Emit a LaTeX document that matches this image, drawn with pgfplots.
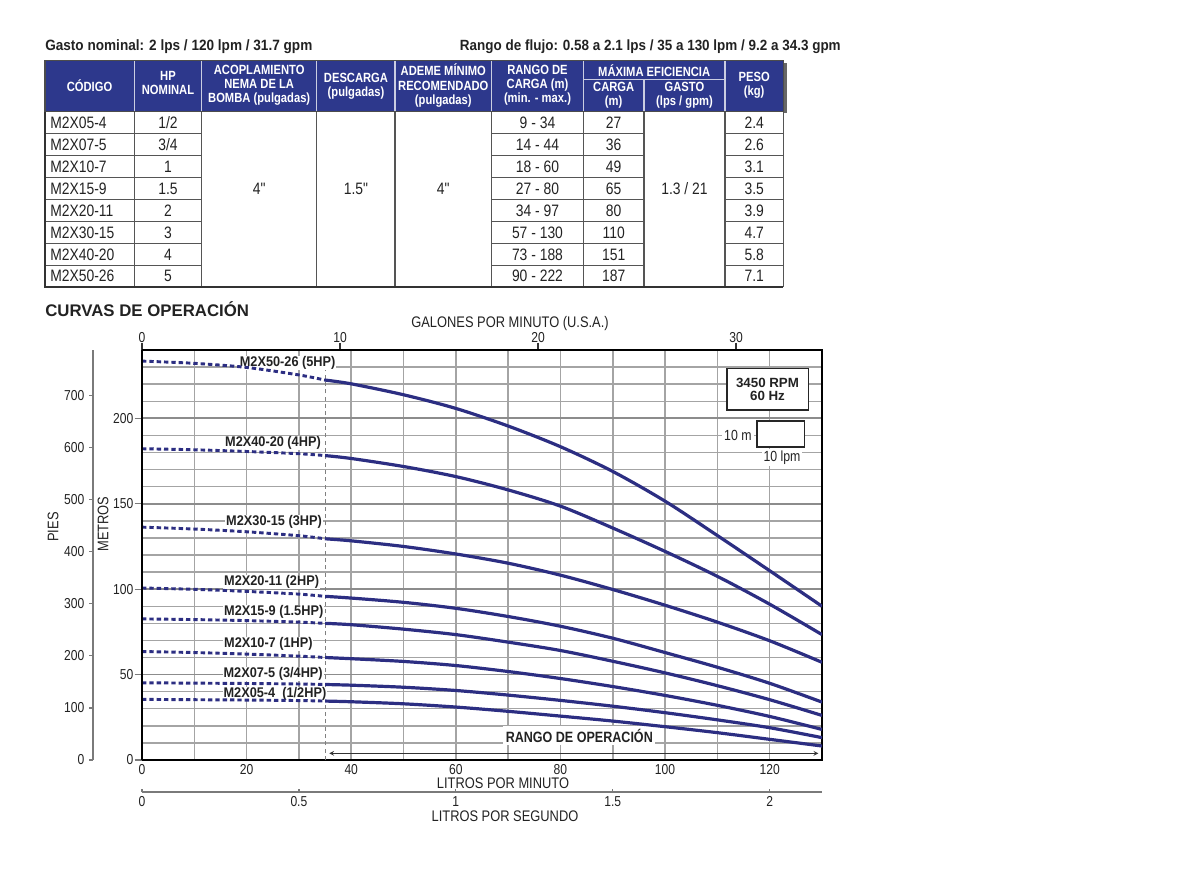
\documentclass[border=0pt]{standalone}
\usepackage{fontspec}
\setmainfont{Liberation Sans}
\newfontfamily\nar[FakeStretch=0.84]{Liberation Sans}
\newfontfamily\semi[FakeStretch=0.91]{Liberation Sans}
\usepackage{pgfplots}
\pgfplotsset{compat=1.18}
\definecolor{curve}{HTML}{2C2E82}
\definecolor{hdr}{HTML}{2D388C}
\definecolor{gridg}{HTML}{A4A4A4}
\definecolor{majg}{HTML}{8C8C8C}
\definecolor{axg}{HTML}{7A7A7A}
\definecolor{txt}{HTML}{222222}
\definecolor{tline}{HTML}{555555}
\newcommand\row[6]{%
 \node[anchor=west] at (50,#1) {#2};
 \node at (168,#1) {#3};
 \node at (537.5,#1) {#4};
 \node at (613.7,#1) {#5};
 \node at (754.2,#1) {#6};}
\pgfplotsset{
 every axis/.append style={
   /pgf/number format/assume math mode=true,
   tick label style={font=\nar\fontsize{10.8}{12}\selectfont, text=txt},
 },
 dsh/.style={curve, line width=2.2pt, dash pattern=on 3.3pt off 2.2pt, smooth},
 sol/.style={curve, line width=2.4pt, smooth},
}
\tikzset{lbl/.style={anchor=base west, font=\semi\bfseries\fontsize{10.5}{12}\selectfont, text=txt, fill=white, inner sep=0.6pt}}
\begin{document}
\begin{tikzpicture}
\begin{scope}[x=0.75pt,y=-0.75pt]
\path[use as bounding box] (0,0) rectangle (1200,886);
\node[anchor=base west, font=\semi\bfseries\fontsize{11.2}{13}\selectfont, text=txt, inner sep=0] at (45,50.7) {Gasto nominal: 2 lps / 120 lpm / 31.7 gpm};
\node[anchor=base east, font=\semi\bfseries\fontsize{11.1}{13}\selectfont, text=txt, inner sep=0] at (841,50.7) {Rango de flujo: 0.58 a 2.1 lps / 35 a 130 lpm / 9.2 a 34.3 gpm};
% header
\fill[black!60] (783.3,63) rectangle (786.5,113);
\fill[hdr] (45,60.7) rectangle (783.3,111.7);
\foreach \x in {134.3,201.7,316.7,395,491.7,583.3,725} \draw[white!75!hdr, line width=0.9pt] (\x,60.7) -- (\x,111.7);
\draw[white!75!hdr, line width=0.9pt] (583.3,79.3) -- (725,79.3) (644,79.3) -- (644,111.7);
\draw[black!70, line width=0.8pt] (45,60.7) rectangle (783.3,111.7);
\begin{scope}[every node/.style={font=\nar\bfseries\fontsize{10}{10.5}\selectfont, text=white, align=center, inner sep=0}]
\node at (89.5,86) {CÓDIGO};
\node at (168,83) {HP\\NOMINAL};
\node at (259.2,85.5) {ACOPLAMIENTO\\NEMA DE LA\\BOMBA (pulgadas)};
\node at (356,86) {DESCARGA\\(pulgadas)};
\node at (443.3,85.5) {ADEME MÍNIMO\\RECOMENDADO\\(pulgadas)};
\node at (537.5,85.5) {RANGO DE\\CARGA (m)\\(min. - max.)};
\node at (654.2,70.5) {MÁXIMA EFICIENCIA};
\node at (613.7,95.5) {CARGA\\(m)};
\node at (684.5,95.5) {GASTO\\(lps / gpm)};
\node at (754.2,85) {PESO\\(kg)};
\end{scope}
% body
\foreach \y in {133.7,155.6,177.6,199.5,221.5,243.4,265.4} {
 \draw[tline, line width=0.8pt] (45,\y) -- (201.7,\y) (491.7,\y) -- (644,\y) (725,\y) -- (783.3,\y);}
\foreach \x in {134.3,201.7,316.7,395,491.7,583.3,644,725,783.3} \draw[tline, line width=0.8pt] (\x,111.7) -- (\x,287.3);
\draw[black!80, line width=1.3pt] (45,111.7) -- (45,287.3) -- (783.3,287.3);
\begin{scope}[every node/.style={font=\nar\fontsize{12.4}{14}\selectfont, text=txt, inner sep=0}]
\row{122.7}{M2X05-4}{1/2}{9 - 34}{27}{2.4}
\row{144.6}{M2X07-5}{3/4}{14 - 44}{36}{2.6}
\row{166.6}{M2X10-7}{1}{18 - 60}{49}{3.1}
\row{188.6}{M2X15-9}{1.5}{27 - 80}{65}{3.5}
\row{210.5}{M2X20-11}{2}{34 - 97}{80}{3.9}
\row{232.5}{M2X30-15}{3}{57 - 130}{110}{4.7}
\row{254.4}{M2X40-20}{4}{73 - 188}{151}{5.8}
\row{276.3}{M2X50-26}{5}{90 - 222}{187}{7.1}
\node at (259.2,189) {4"};
\node at (356,189) {1.5"};
\node at (443.3,189) {4"};
\node at (684.5,189) {1.3 / 21};
\end{scope}
\node[anchor=base west, font=\bfseries\fontsize{12.6}{14}\selectfont, text=txt, inner sep=0] at (45,316) {CURVAS DE OPERACIÓN};
\end{scope}

% main axis
\begin{axis}[
 at={(106.5pt,-570pt)}, anchor=south west,
 scale only axis, width=510pt, height=307.5pt,
 xmin=0, xmax=130, ymin=0, ymax=240,
 axis line style={black, line width=1.9pt},
 xtick={0,20,...,120}, minor xtick={0,10,...,130},
 ytick={0,50,...,200}, minor ytick={0,10,...,240},
 yticklabels={},
 xmajorgrids=false, xminorgrids=true, ymajorgrids=true, yminorgrids=true,
 minor grid style={gridg, line width=1.1pt},
 major grid style={majg, line width=1.3pt},
 xtick pos=bottom, ytick pos=left,
 major tick length=0pt, minor tick length=0pt,
]
\draw[gray, dash pattern=on 3pt off 2.5pt, line width=0.6pt] (axis cs:35,0) -- (axis cs:35,230);
\node[lbl] at (axis cs:18.5,230.2) {M2X50-26 (5HP)};
\node[lbl] at (axis cs:15.7,183.4) {M2X40-20 (4HP)};
\node[lbl] at (axis cs:15.9,137) {M2X30-15 (3HP)};
\node[lbl] at (axis cs:15.5,102) {M2X20-11 (2HP)};
\node[lbl] at (axis cs:15.5,84.3) {M2X15-9 (1.5HP)};
\node[lbl] at (axis cs:15.5,65.7) {M2X10-7 (1HP)};
\node[lbl] at (axis cs:15.4,48.2) {M2X07-5 (3/4HP)};
\node[lbl] at (axis cs:15.4,36.5) {M2X05-4~~(1/2HP)};
\node[anchor=base, font=\nar\bfseries\fontsize{11.2}{13}\selectfont, text=txt, fill=white, inner sep=2pt] at (axis cs:83.6,10.4) {RANGO DE OPERACIÓN};
\draw[<->, >=stealth, black!80, line width=0.6pt] (axis cs:35.8,3.9) -- (axis cs:129.3,3.9);
% 5HP
\addplot[dsh] coordinates {(0,233.5)(10,232.2)(20,229.8)(30,225.4)(35,222.4)};
\addplot[sol] coordinates {(35,222.4)(40,220.2)(50,213.8)(60,205.8)(70,195.5)(80,183.4)(90,168.9)(100,151.5)(110,131.4)(120,110.8)(130,90)};
% 4HP
\addplot[dsh] coordinates {(0,182.2)(10,181.6)(20,180.6)(30,179.3)(35,178.2)};
\addplot[sol] coordinates {(35,178.2)(40,176.5)(50,171.8)(60,165.9)(70,158.1)(80,148.6)(90,135.8)(100,122.1)(110,107.5)(120,91.2)(130,73.4)};
% 3HP
\addplot[dsh] coordinates {(0,136.3)(10,135.2)(20,133.6)(30,131.3)(35,129.5)};
\addplot[sol] coordinates {(35,129.5)(40,128.3)(50,125)(60,120.6)(70,115.2)(80,108.2)(90,99.8)(100,90.6)(110,80.7)(120,69.8)(130,57.2)};
% 2HP
\addplot[dsh] coordinates {(0,100.7)(10,99.9)(20,98.7)(30,97.1)(35,95.8)};
\addplot[sol] coordinates {(35,95.8)(40,94.8)(50,92.3)(60,88.8)(70,84)(80,78.3)(90,71.3)(100,62.9)(110,54.3)(120,44.9)(130,33.9)};
% 1.5HP
\addplot[dsh] coordinates {(0,82.6)(10,82.2)(20,81.6)(30,80.7)(35,80)};
\addplot[sol] coordinates {(35,80)(40,79.2)(50,76.6)(60,73.4)(70,69)(80,64.1)(90,57.8)(100,51)(110,43.5)(120,35.3)(130,26.1)};
% 1HP
\addplot[dsh] coordinates {(0,63.5)(10,62.9)(20,62)(30,60.8)(35,60)};
\addplot[sol] coordinates {(35,60)(40,59.3)(50,57.7)(60,55.3)(70,51.8)(80,47.7)(90,43)(100,37.8)(110,32)(120,25.5)(130,17.9)};
% 3/4HP
\addplot[dsh] coordinates {(0,45.2)(10,45)(20,44.8)(30,44.5)(35,44.2)};
\addplot[sol] coordinates {(35,44.2)(40,43.8)(50,42.6)(60,40.7)(70,38)(80,34.9)(90,31.5)(100,27.7)(110,23.5)(120,18.9)(130,13.1)};
% 1/2HP
\addplot[dsh] coordinates {(0,35.5)(10,35.3)(20,35.1)(30,34.8)(35,34.5)};
\addplot[sol] coordinates {(35,34.5)(40,34.1)(50,32.9)(60,31)(70,28.5)(80,25.7)(90,22.8)(100,19.5)(110,16)(120,12.1)(130,8.2)};
\end{axis}

% metros axis
\begin{axis}[
 at={(106.5pt,-570pt)}, anchor=south west,
 scale only axis, width=510pt, height=307.5pt,
 xmin=0, xmax=130, ymin=0, ymax=240,
 axis y line*=left, axis x line=none,
 y axis line style={black, line width=1.9pt, -},
 ytick={0,50,...,200}, tick align=outside, major tick length=5.5pt,
 tick style={axg, line width=0.8pt},
 yticklabel style={xshift=2.5pt},
]
\end{axis}

% gpm axis
\begin{axis}[
 at={(106.5pt,-570pt)}, anchor=south west,
 scale only axis, width=510pt, height=307.5pt,
 xmin=0, xmax=34.342, ymin=0, ymax=1,
 axis x line*=top, axis y line=none,
 x axis line style={black, line width=1.9pt, -},
 xtick={0,10,20,30}, tick align=outside, major tick length=5.5pt,
 tick style={black!80, line width=0.8pt},
 xticklabel style={yshift=-3.5pt},
]
\end{axis}

% lps axis
\begin{axis}[
 at={(106.5pt,-594pt)}, anchor=south west,
 scale only axis, width=510pt, height=10pt,
 xmin=0, xmax=2.16667, ymin=0, ymax=1,
 axis x line*=bottom, axis y line=none,
 x axis line style={axg, line width=0.9pt, -},
 xtick={0,0.5,1,1.5,2}, xticklabels={0,0.5,1,1.5,2},
 tick align=inside, major tick length=2pt,
 tick style={axg, line width=0.9pt},
]
\end{axis}

% pies axis
\begin{axis}[
 at={(69.75pt,-570pt)}, anchor=south west,
 scale only axis, width=5pt, height=307.5pt,
 xmin=0, xmax=1, ymin=0, ymax=787.4,
 axis y line*=left, axis x line=none,
 y axis line style={axg, line width=0.9pt, -},
 ytick={0,100,...,700}, tick align=outside, major tick length=3pt,
 tick style={axg, line width=0.9pt},
]
\end{axis}

\begin{scope}[x=0.75pt,y=-0.75pt]
\begin{scope}[every node/.style={font=\nar\fontsize{11.5}{13}\selectfont, text=txt, inner sep=0}]
\node at (510,323.5) {GALONES POR MINUTO (U.S.A.)};
\node at (503,783.5) {LITROS POR MINUTO};
\node at (505,816.5) {LITROS POR SEGUNDO};
\node[rotate=90] at (103,524) {METROS};
\node[rotate=90] at (53,527) {PIES};
\end{scope}
\draw[black!85, line width=1.2pt, fill=white] (726.7,368.3) rectangle (808.3,410);
\node[font=\bfseries\fontsize{10}{11}\selectfont, text=txt, inner sep=0] at (767.5,382.5) {3450 RPM};
\node[font=\bfseries\fontsize{10}{11}\selectfont, text=txt, inner sep=0] at (767.5,396) {60 Hz};
\draw[black!85, line width=1.2pt, fill=white] (756.7,421) rectangle (804.3,447);
\node[anchor=east, font=\nar\fontsize{11}{12}\selectfont, text=txt, fill=white, inner sep=2pt] at (754.5,435) {10 m};
\node[anchor=north, font=\nar\fontsize{11}{12}\selectfont, text=txt, fill=white, inner sep=1.5pt] at (782,448.5) {10 lpm};
\end{scope}
\end{tikzpicture}
\end{document}
